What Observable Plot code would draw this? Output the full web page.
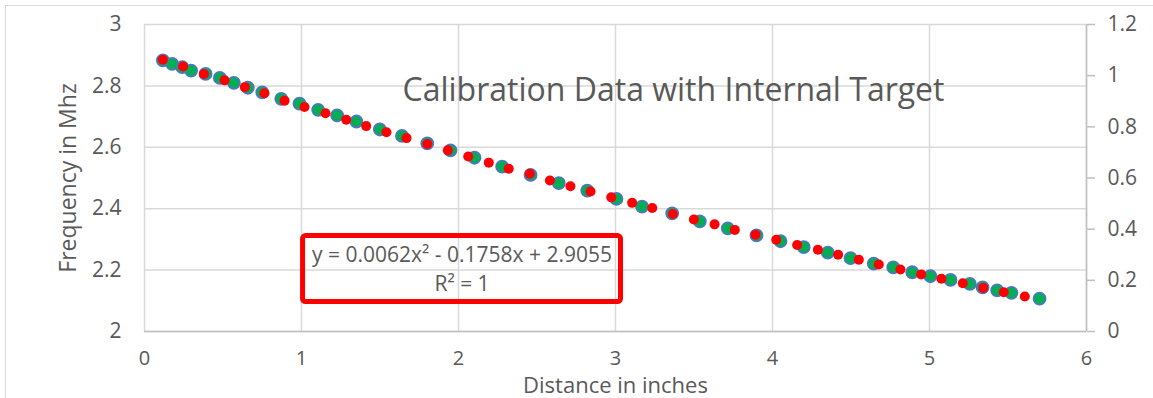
<!DOCTYPE html>
<html><head><meta charset="utf-8">
<script src="https://cdn.jsdelivr.net/npm/d3@7"></script>
<script src="https://cdn.jsdelivr.net/npm/@observablehq/plot@0.6"></script>
<style>
html,body{margin:0;padding:0;background:#fff;overflow:hidden;}
#wrap{position:relative;width:1153px;height:398px;overflow:hidden;}
#border{position:absolute;left:5px;top:5px;width:1300px;height:600px;border:1.5px solid #d9d9d9;box-sizing:border-box;}
#chart{position:absolute;left:0;top:0;}
</style></head><body>
<div id="wrap"><div id="border"></div><div id="chart"></div></div>
<script>
// Series 1 (green, blue outline)
const greenX = [0.117,0.176,0.240,0.297,0.389,0.480,0.569,0.658,0.750,0.871,0.987,1.106,1.227,1.350,1.499,1.640,1.801,1.949,2.102,2.278,2.459,2.639,2.820,3.006,3.169,3.361,3.537,3.715,3.898,4.051,4.199,4.352,4.497,4.645,4.769,4.890,5.006,5.134,5.257,5.338,5.431,5.522,5.701];
const greenY = [2.883,2.872,2.861,2.850,2.839,2.826,2.810,2.794,2.779,2.758,2.742,2.722,2.704,2.684,2.658,2.637,2.613,2.590,2.566,2.537,2.510,2.483,2.459,2.432,2.407,2.385,2.359,2.336,2.313,2.294,2.275,2.257,2.239,2.221,2.209,2.193,2.180,2.168,2.155,2.144,2.134,2.126,2.107];
// Series 2 (red)
const redX = [0.117,0.246,0.378,0.510,0.639,0.764,0.892,1.019,1.153,1.285,1.412,1.541,1.669,1.801,1.932,2.062,2.193,2.320,2.454,2.582,2.713,2.841,2.973,3.106,3.234,3.365,3.499,3.631,3.760,3.892,4.024,4.157,4.289,4.418,4.550,4.677,4.815,4.947,5.076,5.212,5.342,5.473,5.607];
const redY = [2.885,2.863,2.839,2.818,2.796,2.776,2.752,2.731,2.711,2.690,2.669,2.649,2.630,2.611,2.590,2.570,2.550,2.530,2.514,2.492,2.473,2.456,2.437,2.419,2.402,2.383,2.365,2.349,2.331,2.315,2.299,2.282,2.266,2.250,2.234,2.218,2.202,2.186,2.172,2.157,2.142,2.128,2.114];

const xTicks = [0,1,2,3,4,5,6];
const leftTicks = [2,2.2,2.4,2.6,2.8,3];
const rightTicks = [0,0.2,0.4,0.6,0.8,1,1.2];
const rightLabels = ["0","0.2","0.4","0.6","0.8","1","1.2"];

const title = "Calibration Data with Internal Target";
const xLabel = "Distance in inches";
const yLabel = "Frequency in Mhz";
const eqLines = ["y = 0.0062x² - 0.1758x + 2.9055", "R² = 1"];
const eqLineY = [2.2476, 2.153];
const eqBox = [{x1: 1.010, x2: 3.035, y1: 2.096, y2: 2.311}];

const green = greenX.map((x, i) => ({x, y: greenY[i]}));
const red = redX.map((x, i) => ({x, y: redY[i]}));
const eq = eqLines.map((t, i) => ({t, x: (eqBox[0].x1 + eqBox[0].x2) / 2, y: eqLineY[i]}));

// right axis: 0..1.2 mapped onto left 2..3
const toLeft = v => 2 + v / 1.2;
const rightPos = rightTicks.map(toLeft);
const rightMap = new Map(rightPos.map((p, i) => [p, rightLabels[i]]));

const gridColor = "#d9d9d9";
const axisColor = "#bfbfbf";
const textColor = "#595959";

const chart = Plot.plot({
  width: 1153,
  height: 398,
  marginLeft: 144,
  marginRight: 67,
  marginTop: 24,
  marginBottom: 67,
  style: {fontFamily: "'Open Sans', sans-serif", fontSize: "21px", color: textColor, background: "transparent", overflow: "visible"},
  x: {domain: [0, 6]},
  y: {domain: [2, 3]},
  marks: [
    Plot.gridX(xTicks, {stroke: gridColor, strokeOpacity: 1, strokeWidth: 1.5}),
    Plot.gridY(leftTicks, {stroke: gridColor, strokeOpacity: 1, strokeWidth: 1.5}),
    Plot.ruleY([2], {stroke: axisColor, strokeWidth: 1.5}),
    Plot.ruleX([6], {stroke: axisColor, strokeWidth: 1.5}),
    Plot.axisY(leftTicks, {anchor: "left", tickSize: 0, tickPadding: 23, tickFormat: d => String(d), label: null, fontSize: 21}),
    Plot.axisX(xTicks, {anchor: "bottom", tickSize: 0, tickPadding: 19, tickFormat: d => String(d), label: null, fontSize: 20}),
    Plot.axisY(rightPos, {anchor: "right", tickSize: 8, tickPadding: 13, stroke: axisColor, strokeWidth: 1.5, tickFormat: d => rightMap.get(d), label: null, fontSize: 21}),
    Plot.text([yLabel], {frameAnchor: "left", textAnchor: "middle", lineAnchor: "middle", dx: -76, rotate: -90, fontSize: 23, fill: textColor}),
    Plot.text([xLabel], {frameAnchor: "bottom", textAnchor: "middle", lineAnchor: "middle", dy: 54, fontSize: 22, fill: textColor}),
    Plot.text([title], {frameAnchor: "top", textAnchor: "middle", lineAnchor: "middle", dx: 58, dy: 66, fontSize: 32, fill: textColor}),
    Plot.rect(eqBox, {x1: "x1", x2: "x2", y1: "y1", y2: "y2", fill: "none", stroke: "#ff0000", strokeWidth: 5, rx: 3}),
    Plot.text(eq, {x: "x", y: "y", text: "t", fontSize: 21, fill: textColor}),
    Plot.dot(green, {x: "x", y: "y", r: 6, fill: "#00b050", stroke: "#4a78c2", strokeWidth: 1.8}),
    Plot.dot(red, {x: "x", y: "y", r: 5, fill: "#ff0000"})
  ]
});
document.getElementById("chart").appendChild(chart);
</script>
</body></html>
